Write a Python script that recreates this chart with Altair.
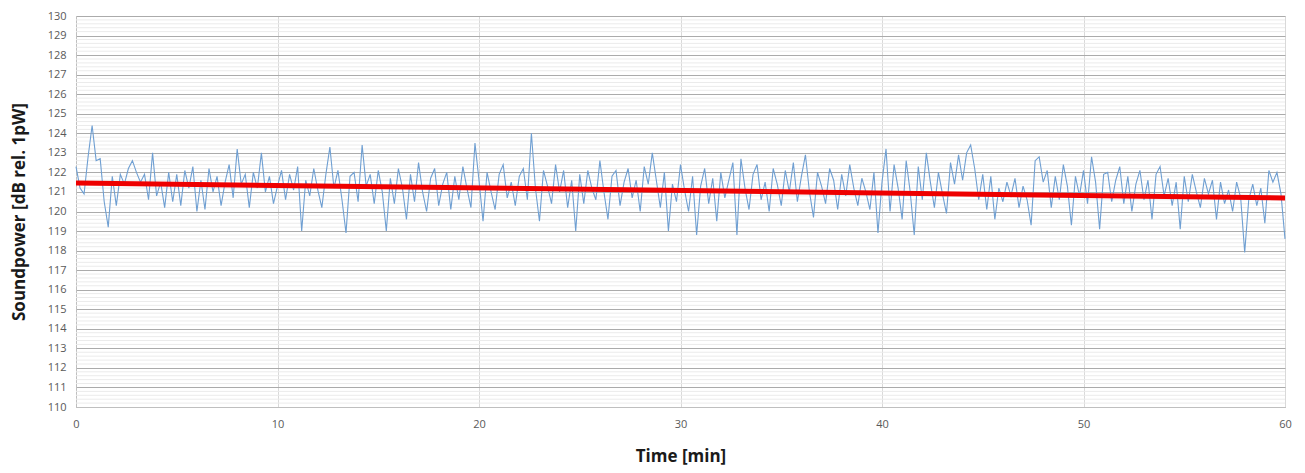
import altair as alt
import pandas as pd

power = [
    122.3, 121.2, 120.9, 122.8, 124.4, 122.6, 122.7, 120.5, 119.2, 121.8, 120.3, 121.9, 121.4, 122.2, 122.6, 122.0, 121.5, 121.9, 120.6, 123.0, 120.8, 121.5, 120.2, 122.0, 120.5,
    121.9, 120.3, 122.1, 121.2, 122.3, 120.0, 121.6, 120.1, 122.2, 121.0, 121.8, 120.3, 121.5, 122.4, 120.7, 123.2, 121.4, 121.9, 120.2, 122.0, 121.2, 123.0, 121.0, 121.8, 120.4,
    121.3, 122.1, 120.6, 121.9, 121.1, 122.3, 119.0, 121.6, 120.8, 122.2, 121.1, 120.2, 121.9, 123.3, 121.2, 122.1, 120.6, 118.9, 121.8, 122.0, 120.5, 123.4, 121.3, 121.9, 120.4,
    122.1, 121.0, 119.0, 121.7, 120.4, 122.2, 121.2, 119.6, 121.9, 120.5, 122.5, 121.0, 120.0, 121.7, 122.2, 120.3, 121.4, 122.0, 120.1, 121.8, 120.6, 122.3, 121.2, 120.2, 123.5,
    121.6, 119.5, 122.0, 121.0, 120.1, 121.9, 122.4, 120.7, 121.5, 120.3, 121.8, 122.2, 120.6, 124.0, 121.2, 119.5, 122.1, 121.3, 120.4, 122.4, 121.0, 122.1, 120.2, 121.6, 119.0,
    121.9, 120.4, 122.1, 121.2, 120.6, 122.6, 121.0, 119.6, 121.8, 122.1, 120.3, 121.5, 122.2, 120.7, 121.6, 120.0, 122.3, 121.4, 123.0, 121.6, 120.2, 122.0, 119.0, 121.4, 120.5,
    122.4, 121.1, 120.0, 121.8, 118.8, 121.3, 122.2, 120.4, 121.7, 119.5, 122.0, 120.7, 121.6, 122.5, 118.8, 122.7, 121.2, 120.1, 121.9, 122.4, 120.6, 121.5, 120.0, 122.2, 121.4,
    120.3, 122.1, 121.0, 122.5, 120.5, 121.8, 122.9, 121.0, 119.7, 122.0, 121.3, 120.4, 122.2, 121.6, 120.1, 121.9, 120.8, 122.4, 121.2, 120.3, 121.7, 121.0, 120.1, 122.0, 118.9,
    121.5, 123.2, 120.0, 122.4, 121.2, 119.6, 122.6, 121.0, 118.8, 122.3, 120.6, 123.0, 121.5, 120.2, 122.0, 120.9, 119.9, 122.5, 121.4, 122.9, 121.6, 123.0, 123.4, 122.2, 120.6,
    121.9, 120.1, 121.8, 119.6, 121.2, 120.5, 121.5, 120.8, 121.7, 120.2, 121.3, 120.6, 119.3, 122.6, 122.8, 121.5, 122.1, 120.2, 121.8, 120.6, 122.4, 121.3, 119.3, 121.8, 120.8,
    122.1, 120.4, 122.8, 121.5, 119.1, 121.9, 122.0, 120.5, 121.6, 122.3, 120.4, 121.8, 120.0, 121.4, 122.1, 120.6, 121.6, 119.6, 121.9, 122.3, 120.8, 121.7, 120.3, 121.5, 119.1,
    121.8, 120.5, 121.9, 121.0, 120.2, 121.7, 120.9, 121.6, 119.6, 121.5, 120.4, 121.1, 120.0, 121.5, 120.7, 117.9, 120.6, 121.4, 120.3, 121.2, 119.4, 122.1, 121.5, 122.0, 120.9,
    118.6,
]
time_min = [round(i * 0.2, 1) for i in range(len(power))]

# Trend line (end points)
trend_time = [0, 60]
trend_power = [121.46, 120.69]

x_ticks = [0, 10, 20, 30, 40, 50, 60]
y_ticks = list(range(110, 131))
# minor gridlines every 0.2 dB between the major ones
y_minor = [round(110 + 0.2 * i, 1) for i in range(101) if i % 5 != 0]

meas = pd.DataFrame({"t": time_min, "p": power})
trend = pd.DataFrame({"t": trend_time, "p": trend_power})
minor = pd.DataFrame({"p": y_minor})

FONT = "Open Sans"

x_scale = alt.Scale(domain=[0, 60], nice=False, zero=False)
x_enc = alt.X(
    "t:Q",
    scale=x_scale,
    axis=alt.Axis(
        values=x_ticks,
        tickCount=len(x_ticks),
        title="Time [min]",
        titleFont=FONT,
        titleFontSize=17,
        titleFontWeight="bold",
        titleColor="#1a1a1a",
        titlePadding=19,
        labelFont=FONT,
        labelFontSize=11,
        labelColor="#595959",
        labelPadding=11,
        ticks=False,
        grid=True,
        gridColor="#d9d9d9",
        domainColor="#bfbfbf",
        labelFlush=False,
        labelOverlap=False,
    ),
)
y_scale = alt.Scale(domain=[110, 130], nice=False, zero=False)
y_enc = alt.Y(
    "p:Q",
    scale=y_scale,
    axis=alt.Axis(
        values=y_ticks,
        tickCount=len(y_ticks),
        format="d",
        labelOverlap=False,
        title="Soundpower  [dB rel. 1pW]",
        titleFont=FONT,
        titleFontSize=17,
        titleFontWeight="bold",
        titleColor="#1a1a1a",
        titlePadding=19,
        labelFont=FONT,
        labelFontSize=11,
        labelColor="#595959",
        labelPadding=10,
        ticks=False,
        grid=True,
        gridColor="#ababab",
        domainColor="#bfbfbf",
    ),
)

minor_rules = alt.Chart(minor).mark_rule(color="#ebebeb", strokeWidth=1).encode(y=y_enc)
blue = alt.Chart(meas).mark_line(color="#6f9fd2", strokeWidth=1.1).encode(x=x_enc, y="p:Q")
red = alt.Chart(trend).mark_line(color="#ee0000", strokeWidth=5).encode(x="t:Q", y="p:Q")

chart = (
    alt.layer(minor_rules, blue, red)
    .properties(
        width=1209,
        height=391,
        autosize=alt.AutoSizeParams(type="none"),
        padding={"left": 68, "top": 8, "right": 12, "bottom": 58},
    )
    .configure_view(stroke=None)
    .configure(font=FONT, background="white")
)

chart.save("out.html", embed_options={"renderer": "svg", "actions": False})
